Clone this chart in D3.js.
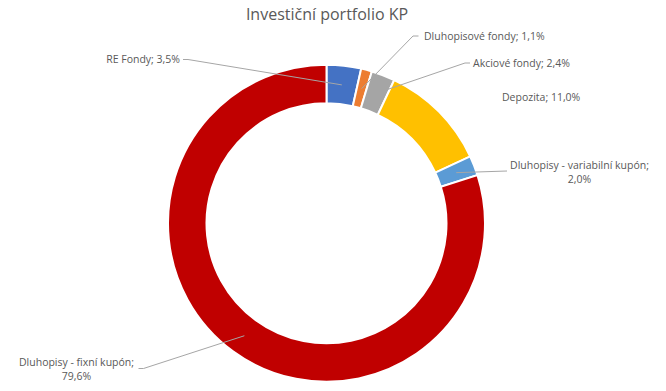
<!DOCTYPE html>
<html><head><meta charset="utf-8">
<script src="https://cdn.jsdelivr.net/npm/d3@7"></script>
<style>
body{margin:0;background:#fff;}
svg{display:block;}
text{font-family:"Open Sans","Noto Sans",sans-serif;fill:#595959;}
</style></head>
<body><svg id="c" width="666" height="391"></svg>
<script>
const title = "Investiční portfolio KP";
const categories = ["RE Fondy","Dluhopisové fondy","Akciové fondy","Depozita","Dluhopisy - variabilní kupón","Dluhopisy - fixní kupón"];
const values = [3.5, 1.1, 2.4, 11.0, 2.0, 79.6];
const colors = ["#4472C4","#ED7D31","#A5A5A5","#FFC000","#5B9BD5","#C00000"];

// label layout (position of text and leader elbow)
const labelLayout = [
  {x:180, y:59.5, anchor:"end", lines:1, elbow:[188,59.5], end:[183,59.5]},
  {x:424, y:36, anchor:"start", lines:1, elbow:[413,36], end:[418.5,36]},
  {x:473, y:63, anchor:"start", lines:1, elbow:[465,63], end:[470,63]},
  {x:502, y:97, anchor:"start", lines:1, elbow:null},
  {x:579.5, y:165, anchor:"middle", lines:2, elbow:[507,171], end:null},
  {x:76.5, y:362.5, anchor:"middle", lines:2, elbow:[143.5,368.5], end:[138.5,368.5]}
];

const svg = d3.select("#c");
const cx = 326.5, cy = 223.3, rOut = 158.5, rIn = 120;

svg.append("text").attr("x",327).attr("y",14).attr("text-anchor","middle")
  .attr("dy","0.35em").style("font-size","16px").text(title);

const data = categories.map((c,i)=>({name:c, value:values[i], color:colors[i], layout:labelLayout[i]}));
const pie = d3.pie().sort(null).value(d=>d.value);
const arc = d3.arc().innerRadius(rIn).outerRadius(rOut);
const arcs = pie(data);

const g = svg.append("g").attr("transform",`translate(${cx},${cy})`);
g.selectAll("path.slice").data(arcs).join("path").attr("class","slice")
  .attr("d",arc).attr("fill",d=>d.data.color)
  .attr("stroke","#fff").attr("stroke-width",2);

const fmt = v => d3.format(".1f")(v).replace(".",",") + "%";

// leader lines
arcs.forEach(a=>{
  const L = a.data.layout;
  if(!L.elbow) return;
  const c = arc.centroid(a);
  const p0 = [c[0]+cx, c[1]+cy];
  const pts = [p0, L.elbow];
  if(L.end) pts.push(L.end);
  svg.append("path").attr("d", d3.line()(pts)).attr("fill","none")
    .attr("stroke","#A6A6A6").attr("stroke-width",1);
});

// labels
arcs.forEach(a=>{
  const L = a.data.layout;
  const t = svg.append("text").attr("text-anchor",L.anchor).style("font-size","10.5px");
  if(L.lines===1){
    t.append("tspan").attr("x",L.x).attr("y",L.y).attr("dy","0.35em").text(a.data.name+"; "+fmt(a.data.value));
  } else {
    t.append("tspan").attr("x",L.x).attr("y",L.y).attr("dy","0.35em").text(a.data.name+";");
    t.append("tspan").attr("x",L.x).attr("y",L.y+14.3).attr("dy","0.35em").text(fmt(a.data.value));
  }
});
</script></body></html>
